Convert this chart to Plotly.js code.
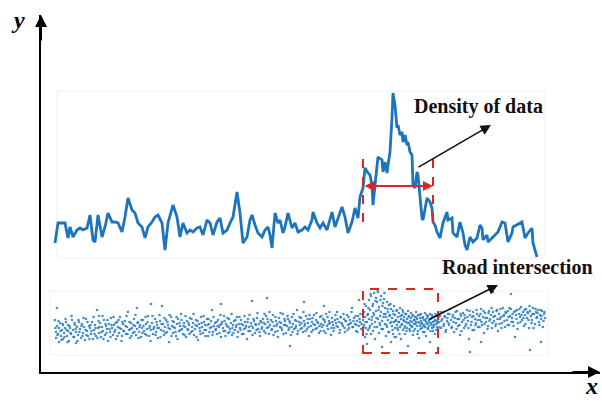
<!DOCTYPE html>
<html>
<head>
<meta charset="utf-8">
<script src="https://cdn.plot.ly/plotly-3.0.1.min.js"></script>
<style>html,body{margin:0;padding:0;background:#fff;}#chart{width:602px;height:405px;}</style>
</head>
<body>
<div id="chart"></div>
<script>
// Density of data along the road (x = position, y = density level)
const lineX = [14,17,24,27,29,32,36,39,42,46,49,52,54,57,61,64,67,71,74,77,81,84,87,91,94,97,101,104,107,111,114,117,121,124,127,131,132,136,139,142,146,149,152,156,159,162,166,169,172,176,179,182,186,189,192,196,199,202,206,209,211,214,217,221,224,227,229,231,234,237,239,242,244,247,251,254,257,261,264,267,271,272,276,279,282,286,291,294,297,301,304,307,311,314,317,319,322,324,327,329,331,332,334,337,341,342,344,346,347,349,351,352,354,356,357,359,361,362,364,366,367,369,371,372,374,376,377,379,381,382,386,389,391,392,394,396,399,402,406,407,411,412,416,419,422,424,426,429,432,436,439,441,442,446,447,451,454,457,461,464,467,471,472,476,479,481,484,487,491,492,496];
const lineY = [129,149,149,134,145,135,142,144,142,144,157,132,130,157,135,145,159,150,150,149,140,155,174,162,159,149,145,134,145,150,155,157,149,122,149,162,167,155,135,149,139,142,140,144,145,137,152,149,137,150,154,139,142,149,155,180,159,129,135,152,157,147,139,135,142,145,137,124,159,149,152,139,145,159,144,149,140,142,145,142,152,160,149,144,149,142,160,145,154,165,155,139,150,164,154,175,184,204,199,197,187,167,187,215,212,200,210,199,207,220,254,279,267,244,247,237,240,230,237,227,230,220,217,187,184,200,197,174,154,152,174,170,164,150,147,140,134,149,160,152,154,139,135,150,139,127,122,135,130,134,147,144,132,137,130,134,137,140,150,149,130,139,145,147,149,150,134,139,144,129,115];

// GPS points of the road (x = position, y = lateral offset)
const roadPoints = [
[14,52],[15,40],[15,34],[16,46],[17,38],[18,44],[18,30],[19,49],[20,36],[21,42],[22,47],[22,33],[23,39],[24,44],[25,50],[26,36],[27,41],[27,47],[28,31],[29,44],[30,38],[31,52],[32,42],[33,35],[34,47],[35,40],[35,29],[36,45],[37,37],[38,50],[39,43],[40,34],[41,48],[42,39],[43,45],[44,32],[45,53],[46,41],[47,36],[48,46],[49,44],[50,38],[51,50],[52,33],[53,42],[54,47],[55,36],[56,62],[57,44],[58,39],[59,49],[60,35],[61,45],[62,41],[63,52],[64,37],[65,46],[66,43],[67,31],[68,48],[69,40],[70,54],[71,44],[72,37],[73,47],[74,42],[75,33],[76,50],[77,45],[78,39],[79,55],[80,43],[81,36],[82,48],[83,41],[84,51],[85,38],[86,45],[87,60],[88,42],[89,34],[90,49],[91,44],[92,39],[93,53],[94,46],[95,37],[96,43],[97,50],[98,40],[99,47],[100,35],[101,44],[102,52],[103,41],[104,38],[105,48],[106,43],[107,56],[108,36],[109,46],[110,42],
[111,49],[112,38],[113,45],[114,53],[115,40],[116,47],[117,34],[118,44],[119,51],[120,42],[121,66],[122,48],[123,37],[124,45],[125,52],[126,40],[127,47],[128,30],[129,43],[130,55],[131,46],[132,39],[133,50],[134,44],[135,36],[136,48],[137,53],[138,41],[139,46],[140,58],[141,43],[142,38],[143,49],[144,45],[145,35],[146,51],[147,42],[148,47],[149,54],[150,40],[151,45],[152,49],[153,37],[154,43],[155,52],[156,46],[157,32],[158,48],[159,41],[160,55],[161,45],[162,39],[163,50],[164,47],[165,42],[166,53],[167,36],[168,48],[169,44],[170,51],[171,62],[172,40],[173,46],[174,49],[175,43],[176,38],[177,52],[178,45],[179,47],[180,35],[181,50],[182,44],[183,56],[184,41],[185,48],[186,46],[187,39],[188,53],[189,43],[190,49],[191,37],[192,47],[193,51],[194,42],[195,45],[196,55],[197,40],[198,48],[199,44],[200,52],[201,38],[202,47],[203,43],[204,50],[205,46],[206,33],[207,53],[208,45],[209,41],[210,49],[211,71],[212,44],[213,51],[214,39],[215,47],[216,54],[217,43],[218,48],[219,36],[220,50],
[221,45],[222,53],[223,41],[224,48],[225,56],[226,44],[227,50],[228,38],[229,47],[230,52],[231,43],[232,57],[233,46],[234,40],[235,51],[236,48],[237,35],[238,54],[239,45],[240,49],[241,42],[242,58],[243,47],[244,51],[245,39],[246,46],[247,53],[248,44],[249,49],[250,37],[251,55],[252,48],[253,43],[254,52],[255,46],[256,62],[257,41],[258,50],[259,47],[260,54],[261,44],[262,40],[263,51],[264,48],[265,56],[266,43],[267,49],[268,36],[269,53],[270,46],[271,50],[272,42],[273,57],[274,47],[275,52],[276,44],[277,49],[278,39],[279,55],[280,48],[281,45],[282,53],[283,41],[284,50],[285,58],[286,46],[287,43],[288,51],[289,49],[290,37],[291,54],[292,47],[293,44],[294,52],[295,49],[296,60],[297,45],[298,50],[299,42],[300,55],[301,48],[302,46],[303,53],[304,40],[305,51],[306,57],[307,47],[308,44],[309,52],[310,49],[311,64],[312,45],[313,54],[314,48],[315,41],[316,51],[317,56],[318,46],[319,50],[320,43],
[322,52],[322,40],[323,60],[323,47],[324,35],[324,55],[325,66],[325,44],[326,50],[326,28],[327,58],[327,42],[328,72],[328,53],[329,46],[329,62],[330,38],[330,76],[331,55],[331,48],[332,68],[332,41],[333,79],[333,57],[334,50],[334,33],[335,74],[335,61],[336,45],[336,70],[337,53],[337,80],[338,39],[338,65],[339,56],[339,47],[340,76],[340,60],[341,51],[341,25],[342,69],[342,43],[343,58],[343,73],[344,48],[344,64],[345,36],[345,55],[346,70],[346,45],[347,60],[347,52],[348,67],[348,40],[349,57],[349,49],[350,63],[350,30],[351,54],[351,46],[352,61],[352,38],[353,50],[353,66],[354,44],[354,57],[355,52],[355,35],[356,62],[356,47],[357,55],[357,42],[358,59],[358,50],[359,45],[359,64],[360,53],[360,33],[361,57],[361,48],[362,42],[362,60],[363,51],[363,55],[364,46],[364,38],[365,58],[365,50],[366,53],[366,44],[367,61],[367,26],[368,49],[368,56],[369,47],[369,41],[370,54],[370,59],[371,50],[371,45],[372,57],[372,37],[373,52],[373,48],[374,55],[374,43],[375,60],[375,50],[376,46],[376,53],[377,41],[377,57],[378,49],[378,34],[379,54],[379,46],[380,51],[380,58],[381,44],[381,49],[382,55],[382,40],[383,47],[383,52],[384,59],[384,45],[385,50],[385,36],[386,54],[386,48],[387,43],[387,56],[388,51],[388,46],[389,58],[389,30],[390,49],[390,53],[391,44],[391,57],[392,50],[392,41],[393,55],[393,47],[394,52],[394,38],[395,48],[395,56],[396,45],[396,51],[397,53],[397,43],
[398,50],[399,56],[400,44],[401,53],[402,60],[403,48],[404,55],[405,42],[406,51],[407,58],[408,47],[409,63],[410,52],[411,45],[412,57],[413,40],[414,54],[415,49],[416,61],[417,46],[418,53],[419,37],[420,56],[421,50],[422,59],[423,44],[424,54],[425,48],[426,62],[427,51],[428,33],[429,57],[430,47],[431,55],[432,60],[433,42],[434,53],[435,49],[436,58],[437,45],[438,56],[439,52],[440,63],[441,47],[442,55],[443,39],[444,59],[445,50],[446,54],[447,46],[448,61],[449,53],[450,57],[451,44],[452,60],[453,51],[454,56],[455,48],[456,62],[457,41],[458,58],[459,53],[460,55],[461,49],[462,64],[463,57],[464,45],[465,59],[466,52],[467,61],[468,47],[469,56],[470,63],[471,54],[472,50],[473,60],[474,35],[475,57],[476,62],[477,49],[478,58],[479,55],[480,65],[481,52],[482,60],[483,46],[484,57],[485,63],[486,54],[487,59],[488,44],[489,61],[490,56],[491,52],[492,64],[493,58],[494,48],[495,60],[496,55],[497,62],[498,50],[499,57],[500,53],[501,61],[502,45],[503,58],[504,54],
[96,64],[226,74],[263,70],[249,26],[429,20],[489,22],[452,80],[470,78],[110,68],[58,56],[16,64],[180,68],[283,66],[318,72],[500,30],[440,30]
];

// Second pass of GPS points (another trip along the same road)
const roadPoints2 = [
[14.5,44],[16.5,37],[17.5,51],[19.5,41],[20.5,32],[21.5,48],[23.5,35],[24.5,53],[25.5,42],[26.5,30],[28.5,46],[29.5,39],[30.5,56],[32.5,35],[33.5,49],[34.5,43],[36.5,31],[37.5,52],[38.5,40],[40.5,46],[41.5,36],[42.5,54],[44.5,42],[45.5,37],[46.5,50],[48.5,33],[49.5,47],[50.5,41],[52.5,55],[53.5,38],[54.5,44],[56.5,34],[57.5,51],[58.5,45],[60.5,40],[61.5,56],[62.5,33],[64.5,48],[65.5,39],[66.5,52],[68.5,43],[69.5,35],[70.5,47],[72.5,55],[73.5,40],[74.5,49],[76.5,36],[77.5,52],[78.5,44],[80.5,31],[81.5,50],[82.5,41],[84.5,46],[85.5,56],[86.5,38],[88.5,50],[89.5,43],[90.5,36],[92.5,47],[93.5,40],[94.5,57],[96.5,49],[97.5,34],[98.5,45],[100.5,52],[101.5,39],[102.5,46],[104.5,55],[105.5,37],[106.5,50],[108.5,44],[109.5,31],
[111.5,56],[112.5,43],[114.5,37],[115.5,50],[116.5,44],[118.5,57],[119.5,35],[120.5,48],[122.5,41],[123.5,54],[124.5,39],[126.5,50],[127.5,44],[128.5,57],[130.5,36],[131.5,51],[132.5,45],[134.5,40],[135.5,55],[136.5,33],[138.5,49],[139.5,42],[140.5,52],[142.5,46],[143.5,37],[144.5,56],[146.5,43],[147.5,49],[148.5,38],[150.5,53],[151.5,41],[152.5,58],[154.5,47],[155.5,35],[156.5,51],[158.5,44],[159.5,38],[160.5,49],[162.5,56],[163.5,42],[164.5,36],[166.5,47],[167.5,53],[168.5,40],[170.5,45],[171.5,37],[172.5,55],[174.5,42],[175.5,50],[176.5,46],[178.5,39],[179.5,57],[180.5,48],[182.5,41],[183.5,51],[184.5,36],[186.5,54],[187.5,45],[188.5,40],[190.5,58],[191.5,44],[192.5,39],[194.5,52],[195.5,47],[196.5,35],[198.5,55],[199.5,42],[200.5,48],[202.5,38],[203.5,56],[204.5,44],[206.5,50],[207.5,41],[208.5,57],[210.5,46],[211.5,37],[212.5,53],[214.5,48],[215.5,42],[216.5,59],[218.5,40],[219.5,51],
[220.5,43],[222.5,49],[223.5,58],[224.5,39],[226.5,53],[227.5,45],[228.5,60],[230.5,42],[231.5,50],[232.5,37],[234.5,55],[235.5,46],[236.5,41],[238.5,50],[239.5,59],[240.5,44],[242.5,38],[243.5,53],[244.5,47],[246.5,56],[247.5,42],[248.5,51],[250.5,45],[251.5,40],[252.5,58],[254.5,44],[255.5,51],[256.5,38],[258.5,55],[259.5,43],[260.5,49],[262.5,60],[263.5,46],[264.5,41],[266.5,53],[267.5,45],[268.5,57],[270.5,40],[271.5,54],[272.5,48],[274.5,43],[275.5,59],[276.5,50],[278.5,46],[279.5,41],[280.5,56],[282.5,47],[283.5,52],[284.5,39],[286.5,55],[287.5,48],[288.5,60],[290.5,44],[291.5,50],[292.5,41],[294.5,57],[295.5,46],[296.5,53],[298.5,39],[299.5,55],[300.5,49],[302.5,58],[303.5,44],[304.5,51],[306.5,42],[307.5,55],[308.5,48],[310.5,60],[311.5,45],[312.5,51],[314.5,56],[315.5,47],[316.5,40],[318.5,53],[319.5,58],[320.5,48],
[322.5,45],[323.5,68],[324.5,50],[325.5,38],[326.5,57],[327.5,64],[328.5,44],[329.5,78],[330.5,52],[331.5,66],[332.5,59],[333.5,45],[334.5,71],[335.5,54],[336.5,82],[337.5,62],[338.5,49],[339.5,72],[340.5,43],[341.5,66],[342.5,55],[343.5,79],[344.5,58],[345.5,47],[346.5,63],[347.5,40],[348.5,56],[349.5,68],[350.5,50],[351.5,42],[352.5,58],[353.5,35],[354.5,51],[355.5,61],[356.5,44],[357.5,50],[358.5,38],[359.5,56],[360.5,47],[361.5,62],[362.5,52],[363.5,44],[364.5,58],[365.5,41],[366.5,49],[367.5,55],[368.5,43],[369.5,51],[370.5,46],[371.5,56],[372.5,41],[373.5,52],[374.5,48],[375.5,55],[376.5,38],[377.5,50],[378.5,57],[379.5,43],[380.5,48],[381.5,54],[382.5,46],[383.5,40],[384.5,52],[385.5,57],[386.5,44],[387.5,49],[388.5,53],[389.5,41],[390.5,47],[391.5,55],[392.5,45],[393.5,51],[394.5,58],[395.5,42],[396.5,49],[397.5,55],
[398.5,45],[399.5,60],[400.5,51],[402.5,46],[403.5,56],[404.5,40],[406.5,54],[407.5,49],[408.5,58],[410.5,44],[411.5,55],[412.5,50],[414.5,60],[415.5,43],[416.5,53],[418.5,47],[419.5,58],[420.5,41],[422.5,52],[423.5,57],[424.5,46],[426.5,55],[427.5,44],[428.5,61],[430.5,50],[431.5,42],[432.5,56],[434.5,47],[435.5,62],[436.5,52],[438.5,45],[439.5,58],[440.5,50],[442.5,61],[443.5,48],[444.5,54],[446.5,43],[447.5,59],[448.5,51],[450.5,64],[451.5,49],[452.5,55],[454.5,46],[455.5,61],[456.5,53],[458.5,48],[459.5,63],[460.5,44],[462.5,56],[463.5,51],[464.5,60],[466.5,47],[467.5,55],[468.5,64],[470.5,50],[471.5,58],[472.5,46],[474.5,61],[475.5,53],[476.5,43],[478.5,63],[479.5,50],[480.5,57],[482.5,54],[483.5,62],[484.5,48],[486.5,60],[487.5,52],[488.5,66],[490.5,49],[491.5,58],[492.5,44],[494.5,63],[495.5,54],[496.5,59],[498.5,47],[499.5,62],[500.5,56],[502.5,51],[503.5,60]
];

// Annotation labels
const labelDensity = "Density of data";
const labelRoad = "Road intersection";
const axisLabelX = "x";
const axisLabelY = "y";

// Marked region (intersection interval) along x, and extents
const regionX = [322, 392];
const regionLineY = [150, 222];
const regionArrowY = 186;
const boxX = [322, 397];
const boxY = [19, 83];

const blue = "#1c74bd";
const red = "#e02424";

const allPoints = roadPoints.concat(roadPoints2);

const traces = [
  {x: allPoints.map(p => p[0]), y: allPoints.map(p => p[1]), type: "scatter", mode: "markers",
   marker: {color: blue, size: 2.6, opacity: 0.8}, hoverinfo: "skip", cliponaxis: false},
  {x: lineX, y: lineY, type: "scatter", mode: "lines",
   line: {color: blue, width: 2.8}, hoverinfo: "skip", cliponaxis: false}
];

const serif = "Liberation Serif, Times New Roman, serif";

const layout = {
  width: 602, height: 405,
  margin: {l: 41, r: 2, t: 15, b: 33},
  paper_bgcolor: "#fff", plot_bgcolor: "#fff",
  showlegend: false,
  xaxis: {range: [0, 559], showline: true, linecolor: "#000", linewidth: 2,
          showgrid: false, zeroline: false, showticklabels: false, ticks: ""},
  yaxis: {range: [0, 357], showline: true, linecolor: "#000", linewidth: 2,
          showgrid: false, zeroline: false, showticklabels: false, ticks: ""},
  shapes: [
    {type: "rect", xref: "x", yref: "y", x0: 16, x1: 504, y0: 114, y1: 281,
     line: {color: "#f0f0f0", width: 1}, layer: "below"},
    {type: "rect", xref: "x", yref: "y", x0: 9, x1: 507, y0: 17, y1: 81,
     line: {color: "#f0f0f0", width: 1}, layer: "below"},
    {type: "line", xref: "x", yref: "y", x0: regionX[0], x1: regionX[0], y0: regionLineY[0], y1: regionLineY[1],
     line: {color: red, width: 2, dash: "dash"}},
    {type: "line", xref: "x", yref: "y", x0: regionX[1], x1: regionX[1], y0: regionLineY[0], y1: regionLineY[1],
     line: {color: red, width: 2, dash: "dash"}},
    {type: "rect", xref: "x", yref: "y", x0: boxX[0], x1: boxX[1], y0: boxY[0], y1: boxY[1],
     line: {color: red, width: 2, dash: "dash"}}
  ],
  annotations: [
    {xref: "x", yref: "y", axref: "x", ayref: "y", x: 559, y: 0, ax: 530, ay: 0,
     showarrow: true, arrowhead: 2, arrowsize: 1.2, arrowwidth: 2, arrowcolor: "#000", text: ""},
    {xref: "x", yref: "y", axref: "x", ayref: "y", x: 0, y: 357, ax: 0, ay: 330,
     showarrow: true, arrowhead: 2, arrowsize: 1.2, arrowwidth: 2, arrowcolor: "#000", text: ""},
    {xref: "paper", yref: "paper", x: -0.041, y: 0.986, text: "<b><i>" + axisLabelY + "</i></b>",
     showarrow: false, font: {family: serif, size: 24, color: "#000"}, xanchor: "center", yanchor: "middle"},
    {xref: "paper", yref: "paper", x: 0.985, y: -0.04, text: "<b><i>" + axisLabelX + "</i></b>",
     showarrow: false, font: {family: serif, size: 24, color: "#000"}, xanchor: "center", yanchor: "middle"},
    {xref: "x", yref: "y", axref: "x", ayref: "y", x: regionX[1], y: regionArrowY, ax: regionX[0], ay: regionArrowY,
     showarrow: true, arrowhead: 2, startarrowhead: 2, arrowside: "end+start", arrowsize: 1, arrowwidth: 2,
     arrowcolor: red, text: ""},
    {xref: "x", yref: "y", axref: "x", ayref: "y", x: 450, y: 247, ax: 376, ay: 204,
     showarrow: true, arrowhead: 2, arrowsize: 1.3, arrowwidth: 1.6, arrowcolor: "#111", text: ""},
    {xref: "x", yref: "y", axref: "x", ayref: "y", x: 457, y: 87, ax: 387, ay: 52,
     showarrow: true, arrowhead: 2, arrowsize: 1.3, arrowwidth: 1.6, arrowcolor: "#111", text: ""},
    {xref: "x", yref: "y", x: 437, y: 266, text: "<b>" + labelDensity + "</b>", showarrow: false,
     font: {family: serif, size: 20, color: "#111"}, xanchor: "center", yanchor: "middle"},
    {xref: "x", yref: "y", x: 476, y: 105, text: "<b>" + labelRoad + "</b>", showarrow: false,
     font: {family: serif, size: 20, color: "#111"}, xanchor: "center", yanchor: "middle"}
  ]
};

Plotly.newPlot("chart", traces, layout, {staticPlot: true, displayModeBar: false});
</script>
</body>
</html>
